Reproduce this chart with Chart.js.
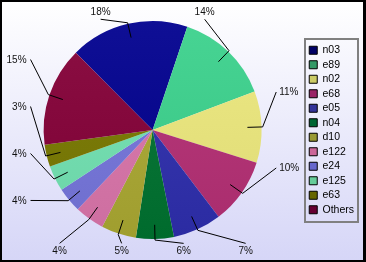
<!DOCTYPE html>
<html><head><meta charset="utf-8">
<script src="https://cdn.jsdelivr.net/npm/chart.js@4"></script>
<style>html,body{margin:0;padding:0;background:#fff;}canvas{display:block}</style>
</head><body>
<canvas id="c" width="366" height="262"></canvas>
<script>
// ---- data ----
const categories = ['n03','e89','n02','e68','e05','n04','d10','e122','e24','e125','e63','Others'];
const shares = [17.6,14.1,10.6,9.8,7.2,5.6,5.2,4.4,3.7,3.8,3.3,14.7];

// ---- styles ----
const sliceColors = ['#00008e','#3bd18c','#ece87c','#b42f74','#2e2eac','#007230','#aaa832','#da75aa','#7575db','#72e2b2','#787800','#840037'];
const legendColors = ['#000066','#339966','#cccc66','#992266','#333399','#006633','#999933','#cc6699','#6666cc','#66cc99','#666600','#660033'];
const FONT = '"Liberation Sans", Arial, sans-serif';

function hexToRgb(h){const n=parseInt(h.slice(1),16);return [(n>>16)&255,(n>>8)&255,n&255];}
function mix(h, t, a){const c=hexToRgb(h);return 'rgb('+c.map(v=>Math.round(v+(t-v)*a)).join(',')+')';}

const bgPlugin = {
  id:'bg',
  beforeDraw(chart){
    const ctx = chart.ctx, W = chart.width, H = chart.height;
    ctx.save();
    ctx.fillStyle = '#000';
    ctx.fillRect(0,0,W,H);
    const g = ctx.createLinearGradient(0,2,0,H-2);
    g.addColorStop(0,'#ffffff');
    g.addColorStop(1,'#d6d6f7');
    ctx.fillStyle = g;
    ctx.fillRect(2,2,W-5,H-4);
    ctx.restore();
  }
};

const legendBoxPlugin = {
  id:'legendBox',
  afterDraw(chart){
    const hb = chart.legend && chart.legend.legendHitBoxes;
    if(!hb || !hb.length) return;
    let l=Infinity,r=-Infinity,t=Infinity,b=-Infinity;
    hb.forEach(h=>{l=Math.min(l,h.left);r=Math.max(r,h.left+h.width);t=Math.min(t,h.top);b=Math.max(b,h.top+h.height);});
    const ctx = chart.ctx;
    ctx.save();
    ctx.strokeStyle = '#808080';
    ctx.lineWidth = 2;
    ctx.strokeRect(Math.round(l-4.5), Math.round(t-6), Math.round(r+4-(l-4.5)), Math.round(b+6.5-(t-6)));
    ctx.restore();
  }
};

const labelLayout = {
  top:    {dist:1.016, spacing:0.954},
  right:  {dist:1.134, spacing:0.697},
  bottom: {dist:1.040, spacing:0.569},
  left:   {dist:1.120, spacing:0.431}
};

const pieLabelPlugin = {
  id:'pieLabels',
  afterDatasetsDraw(chart){
    const meta = chart.getDatasetMeta(0);
    const vals = chart.data.datasets[0].data;
    const total = vals.reduce((a,b)=>a+b,0);
    const groups = {top:[],right:[],bottom:[],left:[]};
    meta.data.forEach((arc,i)=>{
      const p = arc.getProps(['x','y','startAngle','endAngle','outerRadius'], true);
      const mid = (p.startAngle+p.endAngle)/2;
      const deg = (((mid*180/Math.PI)+90)%360+360)%360;
      const side = (deg>=315||deg<45)?'top':(deg<135?'right':(deg<225?'bottom':'left'));
      groups[side].push({i,mid,p,key:(deg-315+360)%360});
    });
    const ctx = chart.ctx;
    ctx.save();
    ctx.strokeStyle = '#000';
    ctx.lineWidth = 1;
    ctx.fillStyle = '#111';
    ctx.font = '10px ' + FONT;
    Object.keys(groups).forEach(side=>{
      const g = groups[side].sort((a,b)=>a.key-b.key);
      const n = g.length, L = labelLayout[side];
      g.forEach((it,j)=>{
        const {x:cx,y:cy,outerRadius:r} = it.p;
        const off = (j-(n-1)/2)*L.spacing*r;
        let ax, ay;
        if(side==='top'){ax=cx+off;ay=cy-L.dist*r;}
        else if(side==='right'){ax=cx+L.dist*r;ay=cy+off;}
        else if(side==='bottom'){ax=cx-off;ay=cy+L.dist*r;}
        else {ax=cx-L.dist*r;ay=cy-off;}
        const c = Math.cos(it.mid), s = Math.sin(it.mid);
        ctx.beginPath();
        ctx.moveTo(cx+0.87*r*c, cy+0.87*r*s);
        ctx.lineTo(cx+1.01*r*c, cy+1.01*r*s);
        ctx.lineTo(ax, ay);
        ctx.stroke();
        const txt = Math.round(vals[it.i]/total*100)+'%';
        ctx.textBaseline = 'middle';
        if(side==='top'){ctx.textAlign='center';ctx.fillText(txt,ax,ay-7.3);}
        else if(side==='bottom'){ctx.textAlign='center';ctx.fillText(txt,ax,ay+7.4);}
        else if(side==='right'){ctx.textAlign='left';ctx.fillText(txt,ax+3,ay);}
        else {ctx.textAlign='right';ctx.fillText(txt,ax-4,ay+0.5);}
      });
    });
    ctx.restore();
  }
};

new Chart(document.getElementById('c'), {
  type:'pie',
  data:{
    labels: categories,
    datasets:[{
      data: shares,
      borderWidth: 0,
      backgroundColor: (ctx)=>{
        const base = sliceColors[ctx.dataIndex % sliceColors.length];
        const area = ctx.chart.chartArea;
        if(!area) return base;
        const g = ctx.chart.ctx.createLinearGradient(0, area.top, 0, area.bottom);
        g.addColorStop(0, mix(base,255,0.06));
        g.addColorStop(1, mix(base,0,0.06));
        return g;
      }
    }]
  },
  options:{
    responsive:false,
    devicePixelRatio:1,
    animation:false,
    rotation:-44.8,
    layout:{padding:{left:0,right:2,top:21,bottom:23}},
    plugins:{
      tooltip:{enabled:false},
      legend:{
        position:'right',
        labels:{
          boxWidth:8, boxHeight:8, padding:4, color:'#000',
          font:{family:FONT, size:10.5},
          generateLabels:(chart)=>chart.data.labels.map((lab,i)=>({
            text:lab, fillStyle:legendColors[i], strokeStyle:'#000', lineWidth:1, hidden:false, index:i
          }))
        }
      }
    }
  },
  plugins:[bgPlugin, pieLabelPlugin, legendBoxPlugin]
});
</script>
</body></html>
